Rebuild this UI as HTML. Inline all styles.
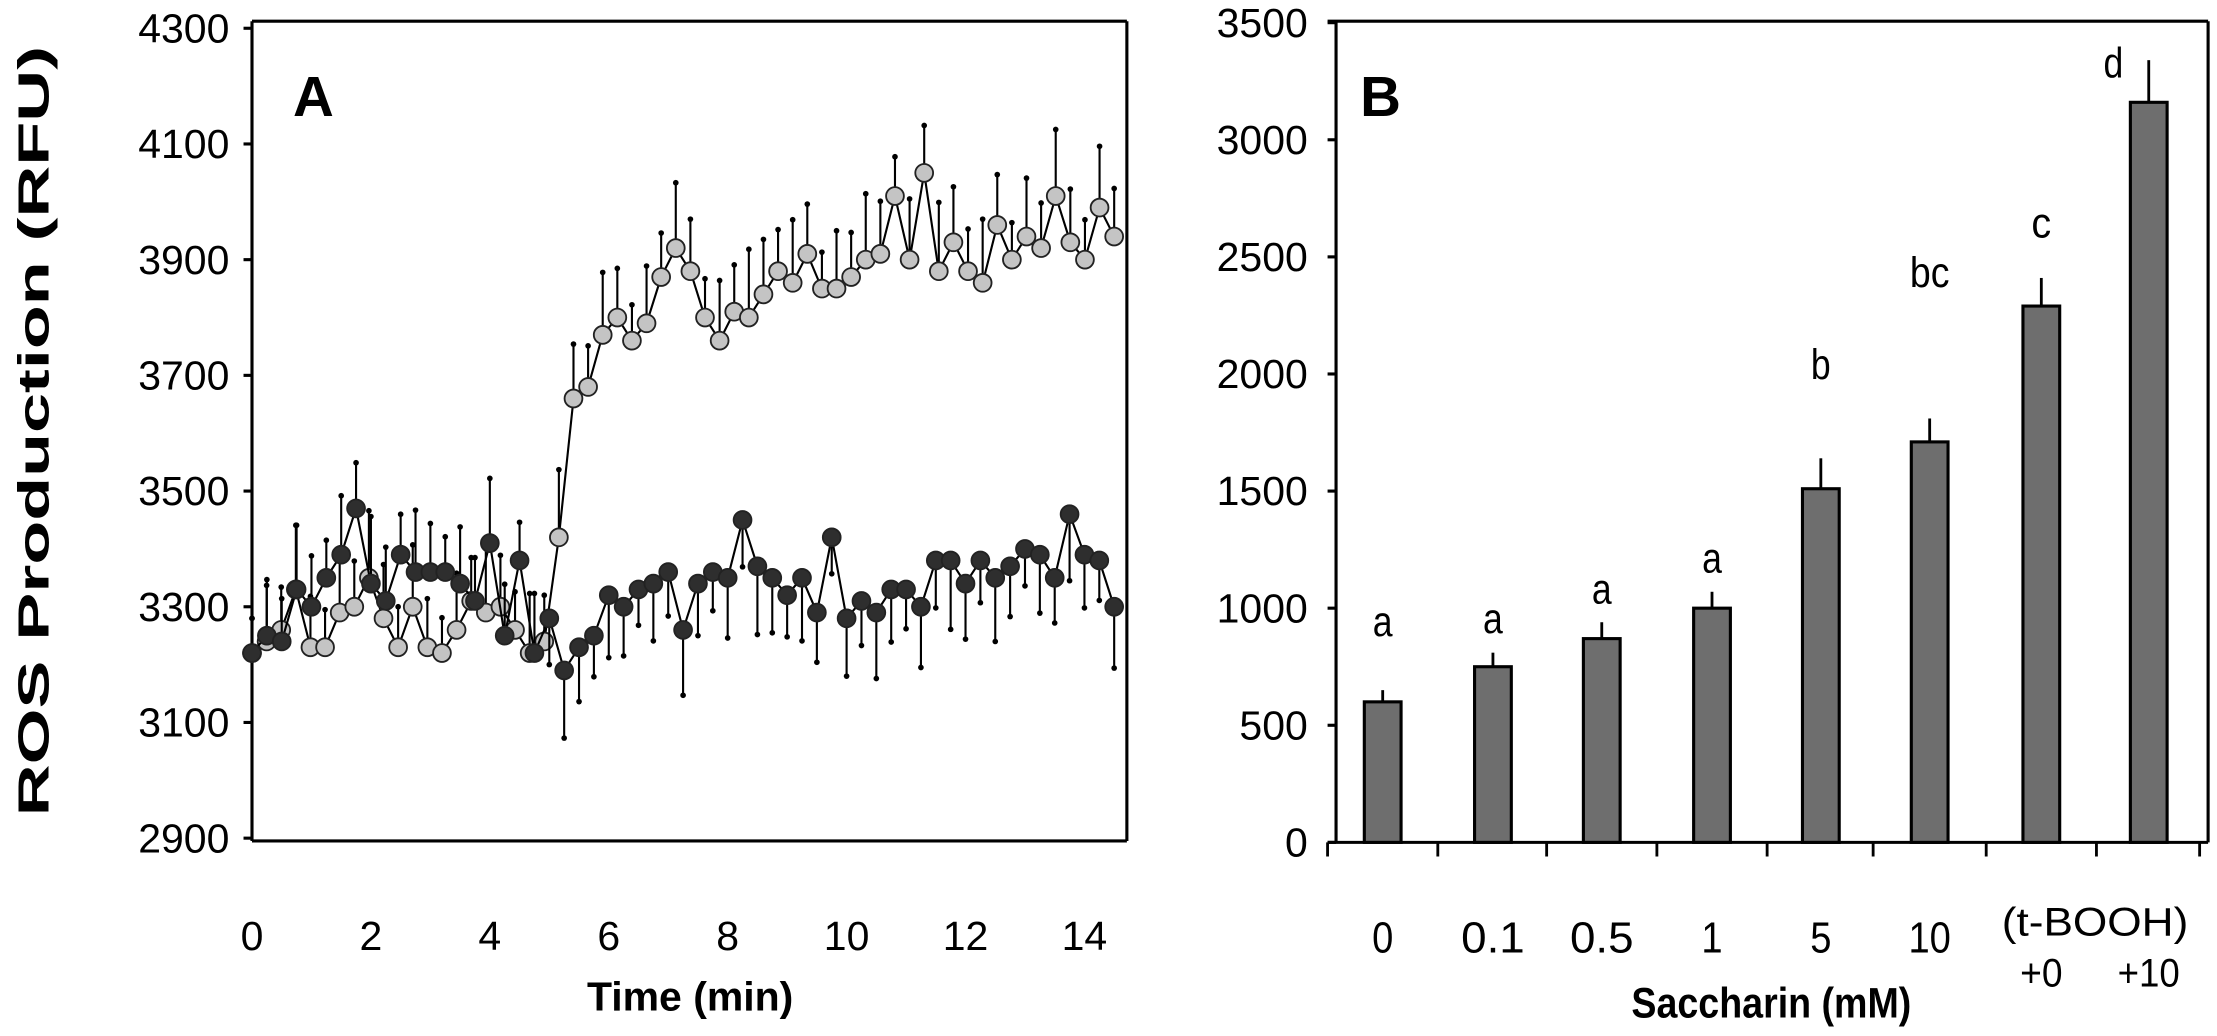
<!DOCTYPE html>
<html><head><meta charset="utf-8"><style>
html,body{margin:0;padding:0;background:#fff;}
svg{display:block;}
text{font-family:"Liberation Sans",Arial,sans-serif;fill:#000;}
</style></head><body>
<svg id="s" width="2217" height="1036" viewBox="0 0 1568 733" xmlns="http://www.w3.org/2000/svg">
<rect width="1568" height="733" fill="#fff"/>
<g stroke="#000" stroke-width="2.2" fill="none">
<line x1="178" y1="15" x2="797" y2="15"/>
<line x1="797" y1="15" x2="797" y2="595"/>
<line x1="178" y1="15" x2="178" y2="595"/>
<line x1="178" y1="595" x2="797" y2="595"/>
</g>
<g id="aticks" stroke="#000" stroke-width="2.2"></g>
<g id="alabels" font-size="29"></g>
<text x="207" y="82" font-size="40" font-weight="bold">A</text>
<text transform="translate(34,305) rotate(-90)" text-anchor="middle" font-size="31" font-weight="bold" textLength="545" lengthAdjust="spacingAndGlyphs">ROS Production (RFU)</text>
<text x="488" y="715" text-anchor="middle" font-size="29" font-weight="bold" textLength="146" lengthAdjust="spacingAndGlyphs">Time (min)</text>
<g id="series"></g>
<g stroke="#000" stroke-width="2.2" fill="none">
<line x1="939" y1="15" x2="1562" y2="15"/>
<line x1="1562" y1="15" x2="1562" y2="596"/>
<line x1="945" y1="15" x2="945" y2="596"/>
<line x1="939" y1="596" x2="1562" y2="596"/>
</g>
<text x="962" y="82" font-size="40" font-weight="bold">B</text>
<g id="bars"></g>
<text x="1253" y="720" text-anchor="middle" font-size="30" font-weight="bold" textLength="198" lengthAdjust="spacingAndGlyphs">Saccharin (mM)</text>
</svg>
<script>
const NS="http://www.w3.org/2000/svg";
function el(p,t,a,txt){const e=document.createElementNS(NS,t);for(const k in a)e.setAttribute(k,a[k]);if(txt!==undefined)e.textContent=txt;document.getElementById(p).appendChild(e);return e;}
const yA=v=>20+(4300-v)*0.4093, xA=t=>178+t*42.07;
for(let v=2900;v<=4300;v+=200){el('aticks','line',{x1:172,x2:178,y1:yA(v),y2:yA(v)});el('alabels','text',{x:162,y:yA(v)+10,'text-anchor':'end'},v);}
for(let t=0;t<=14;t+=2){el('alabels','text',{x:xA(t),y:672,'text-anchor':'middle'},t);}
const gray=[3220,3240,3260,3330,3230,3230,3290,3300,3350,3280,3230,3300,3230,3220,3260,3310,3290,3300,3260,3220,3240,
3420,3660,3680,3770,3800,3760,3790,3870,3920,3880,3800,3760,3810,3800,3840,3880,3860,3910,3850,3850,3870,3900,3910,4010,3900,4050,3880,3930,3880,3860,3960,3900,3940,3920,4010,3930,3900,3990,3940];
const dark=[3220,3250,3240,3330,3300,3350,3390,3470,3340,3310,3390,3360,3360,3360,3340,3310,3410,3250,3380,3220,3280,
3190,3230,3250,3320,3300,3330,3340,3360,3260,3340,3360,3350,3450,3370,3350,3320,3350,3290,3420,3280,3310,3290,3330,3330,3300,3380,3380,3340,3380,3350,3370,3400,3390,3350,3460,3390,3380,3300];
function draw(arr,fill,upUntil){
  const dt=14.5/(arr.length-1);
  let d='';
  arr.forEach((v,i)=>{const x=xA(i*dt),y=yA(v);d+=(i?'L':'M')+x.toFixed(1)+' '+y.toFixed(1);
    const e=60+((i*37)%60); const up=(i*dt<upUntil); const y2=yA(up?v+e:v-e);
    el('series','line',{x1:x,x2:x,y1:y,y2:y2,stroke:'#000','stroke-width':1.5});
    el('series','circle',{cx:x,cy:y2,r:2,fill:'#000'});
  });
  el('series','path',{d:d,fill:'none',stroke:'#000','stroke-width':1.5});
  arr.forEach((v,i)=>{el('series','circle',{cx:xA(i*dt),cy:yA(v),r:6.3,fill:fill,stroke:'#222','stroke-width':1.3});});
}
draw(gray,'#c4c4c4',99);
draw(dark,'#2e2e2e',5);
const yB=v=>596-v*0.1657;
for(let v=0;v<=3500;v+=500){el('bars','line',{x1:939,x2:945,y1:yB(v),y2:yB(v),stroke:'#000','stroke-width':2.2});el('bars','text',{x:925,y:yB(v)+10,'text-anchor':'end','font-size':29},v);}
[939,1017,1094,1172,1250,1325,1405,1483,1556].forEach(x=>el('bars','line',{x1:x,x2:x,y1:596,y2:606,stroke:'#000','stroke-width':2}));
const cx=[978,1056,1133,1211,1288,1365,1444,1520],vals=[600,750,870,1000,1510,1710,2290,3160],err=[50,60,70,70,130,100,120,180];
const lets=['a','a','a','a','b','bc','c','d'],ly=[450,448,427,405,268,203,168,55],lx=[978,1056,1133,1211,1288,1365,1444,1495];
cx.forEach((c,i)=>{const top=yB(vals[i]);
 el('bars','line',{x1:c,x2:c,y1:top,y2:yB(vals[i]+err[i]),stroke:'#000','stroke-width':2});
 el('bars','rect',{x:c-13,y:top,width:26,height:596-top,fill:'#6e6e6e',stroke:'#000','stroke-width':2.2});
 el('bars','text',{x:lx[i],y:ly[i],'text-anchor':'middle','font-size':30,textLength:lets[i].length*14,lengthAdjust:'spacingAndGlyphs'},lets[i]);
});
const labs=['0','0.1','0.5','1','5','10'];
labs.forEach((l,i)=>el('bars','text',{x:cx[i],y:674,'text-anchor':'middle','font-size':31,textLength:l.length*15,lengthAdjust:'spacingAndGlyphs'},l));
el('bars','text',{x:1482,y:662,'text-anchor':'middle','font-size':28,textLength:132,lengthAdjust:'spacingAndGlyphs'},'(t-BOOH)');
el('bars','text',{x:1444,y:698,'text-anchor':'middle','font-size':28,textLength:30,lengthAdjust:'spacingAndGlyphs'},'+0');
el('bars','text',{x:1520,y:698,'text-anchor':'middle','font-size':28,textLength:44,lengthAdjust:'spacingAndGlyphs'},'+10');
</script>
</body></html>
